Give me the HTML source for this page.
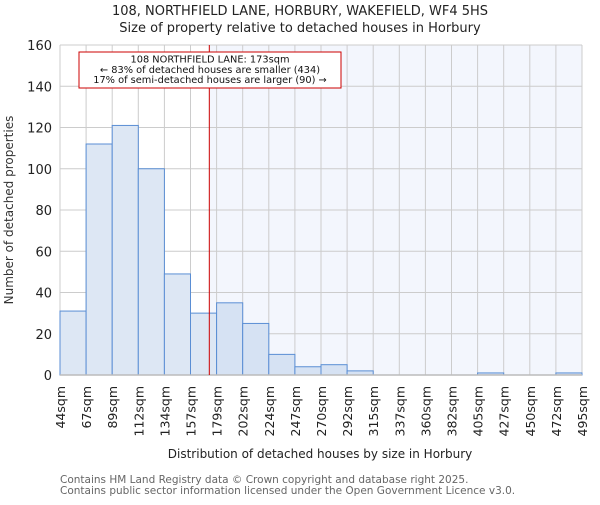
<!DOCTYPE html>
<html><head><meta charset="utf-8"><style>
body{margin:0;background:#fff;}
svg{font-family:"DejaVu Sans","Liberation Sans",sans-serif;}
</style></head><body>
<svg id="chart" width="600" height="500">
<text x="300" y="15" text-anchor="middle" font-size="13" fill="#222">108, NORTHFIELD LANE, HORBURY, WAKEFIELD, WF4 5HS</text>
<text x="300" y="32" text-anchor="middle" font-size="13" fill="#222">Size of property relative to detached houses in Horbury</text>
<g id="plot"></g>
<text transform="translate(13,210) rotate(-90)" text-anchor="middle" font-size="12" fill="#333">Number of detached properties</text>
<text x="320" y="458" text-anchor="middle" font-size="12" fill="#222">Distribution of detached houses by size in Horbury</text>
<text x="60" y="483" font-size="10.5" fill="#666">Contains HM Land Registry data © Crown copyright and database right 2025.</text>
<text x="60" y="494" font-size="10.5" fill="#666">Contains public sector information licensed under the Open Government Licence v3.0.</text>
</svg>
<script>
const binEdges=[44,67,89,112,134,157,179,202,224,247,270,292,315,337,360,382,405,427,450,472,495];
const counts=[31,112,121,100,49,30,35,25,10,4,5,2,0,0,0,0,1,0,0,1];
const yTicks=[0,20,40,60,80,100,120,140,160];
const propertySize=173;
const X0=60,X1=582,Y0=375,Y1=45,YMAX=160;
const nb=counts.length;
const bw=(X1-X0)/nb;
function xi(i){return X0+i*bw;}
function xv(v){return X0+(v-binEdges[0])/(binEdges[nb]-binEdges[0])*(X1-X0);}
function y(v){return Y0-(v/YMAX)*(Y0-Y1);}
const NS="http://www.w3.org/2000/svg";
const g=document.getElementById('plot');
function mk(t,a){const e=document.createElementNS(NS,t);for(const k in a)e.setAttribute(k,a[k]);g.appendChild(e);return e;}
const rx=xv(propertySize);
let e=mk('rect',{x:rx,y:Y1,width:X1-rx,height:Y0-Y1,fill:'#f3f6fd'});


yTicks.forEach(t=>{
 let l=mk('line',{x1:X0,x2:X1,y1:y(t),y2:y(t),stroke:'#ccc','stroke-width':1});
 
 
 let tx=mk('text',{x:X0-8,y:y(t)+5,'text-anchor':'end','font-size':13,fill:'#222'});
 tx.textContent=t;
 
 
});
binEdges.forEach((b,i)=>{
 let l=mk('line',{x1:xi(i),x2:xi(i),y1:Y1,y2:Y0,stroke:'#ccc','stroke-width':1});
 
 
 let tx=mk('text',{transform:`translate(${xi(i)+5},${Y0+11}) rotate(-90)`,'text-anchor':'end','font-size':12.5,fill:'#222'});
 tx.textContent=b+'sqm';
 
 
});
counts.forEach((c,i)=>{
 if(c<=0)return;
 const right=xi(i)>=rx-1;
 let r=mk('rect',{x:xi(i),y:y(c),width:bw,height:Y0-y(c),fill:right?'#d6e2f3':'#dde7f4',stroke:'#5a8ed4','stroke-width':1});
 
 
});
e=mk('line',{x1:X0,x2:X1,y1:Y0,y2:Y0,stroke:'#bbb','stroke-width':1.5});


e=mk('line',{x1:rx,x2:rx,y1:Y1,y2:Y0,stroke:'#cc0000','stroke-width':1});


e=mk('rect',{x:79,y:52,width:262,height:36,fill:'#fff',stroke:'#cc0000','stroke-width':1});


["108 NORTHFIELD LANE: 173sqm","← 83% of detached houses are smaller (434)","17% of semi-detached houses are larger (90) →"].forEach((s,i)=>{
 let t=mk('text',{x:210,y:62.5+i*10.3,'text-anchor':'middle','font-size':9.8,fill:'#111'});
 t.textContent=s;
 
 
});
</script>
</body></html>
